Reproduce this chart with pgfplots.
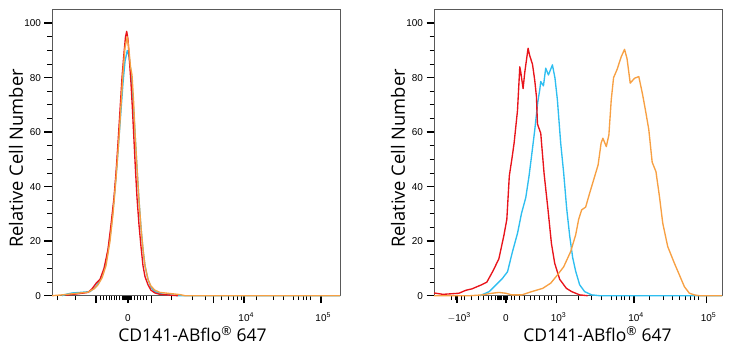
\documentclass[border=0pt]{standalone}
\usepackage{fontspec}
\setmainfont{Liberation Sans}
\newfontfamily\labfont{Open Sans}
\usepackage{pgfplots}
\pgfplotsset{compat=1.18}
\definecolor{cred}{HTML}{E8141B}
\definecolor{ccyan}{HTML}{2EBEF0}
\definecolor{corange}{HTML}{F7A043}
\pgfplotsset{flowax/.style={
  scale only axis, width=288bp, height=286.4bp,
  ymin=0, ymax=105.1,
  ytick={0,20,...,100}, minor y tick num=3,
  axis line style={draw=black!65, line width=0.9bp},
  tick align=outside, xtick pos=bottom, ytick pos=left,
  major tick length=7.5bp, minor tick length=4.5bp,
  every major tick/.append style={black, line width=1.4bp},
  every minor tick/.append style={black, line width=0.9bp},
  tick label style={font=\fontsize{10}{11}\selectfont},
  /pgf/number format/assume math mode=true,
  xticklabel style={text height=9bp, text depth=0bp, yshift=-5.5bp},
  xlabel style={font=\labfont\fontsize{17.6}{20}\selectfont},
  ylabel style={font=\labfont\fontsize{18.4}{20}\selectfont},
  ylabel={Relative Cell Number},
  xlabel={CD141-ABflo\textsuperscript{®} 647},
  ylabel style={at={(axis description cs:-0.125,0.479)}, anchor=center},
  clip=false,
  every axis plot/.append style={line width=1.35bp, line join=round, no markers},
}}
\begin{document}
\begin{tikzpicture}
\path[use as bounding box] (0,0) rectangle (731bp,350bp);
% ---------------- left panel ----------------
\begin{axis}[flowax, at={(52bp,54.3bp)}, anchor=south west,
  xmin=52, xmax=340,
  xtick={96,128,151.7,213.3,244,321},
  xticklabels={,0,,,10\rlap{\textsuperscript{4}},10\rlap{\textsuperscript{5}}},
  minor xtick={57.3,75,100,103.3,106.7,109.3,111.7,114,116.7,119.3,122.7,123.5,124.3,125.1,125.9,126.7,127.5,128.3,129.1,130,131.7,134.3,137.3,140,143.3,146.7,171.7,192.7,205,221.7,228.3,233.3,237.3,241,256.7,273.3,283.3,293.3,298.3,303.3,306.7,310},
  xlabel style={at={(axis description cs:0.488,-0.1606)}, anchor=base},
]
\addplot[ccyan] coordinates {
(62,0)(66,0.5)(72,1)(80,1.2)(90,1.5)(95,3)(99,5)(103,8)(107,14)(111,24)(114,35)(117,48)(119,58)(121,68)(123,78)(125,86)(127.3,90)(129,88)(131,82)(133,72)(135,60)(137,47)(139,35)(141,25)(143,17)(145,11)(148,6)(151,3)(155,1.5)(162,0.6)(172,0.2)(180,0)(340,0)};
\addplot[cred] coordinates {
(66,0.2)(80,0.8)(88,1.2)(92,2.5)(96,4.5)(100,6)(104,10)(108,17)(111,26)(114,36)(116,45)(118,56)(120,68)(122,80)(124,89)(125.5,95)(126.7,97)(128,94)(129.5,86)(131,78)(132.5,68)(134,57)(135.5,46)(137,36)(139,26)(141,18)(143,11)(145,7)(148,4)(151,2)(155,1)(160,0.5)(170,0.2)(178,0)};
\addplot[corange] coordinates {
(52,0)(62,0.3)(75,0.8)(88,1.3)(94,2.5)(98,4)(102,6.5)(106,11)(110,20)(113,30)(116,43)(119,58)(121,70)(123,82)(125,91)(127.3,95)(129,90)(130.5,84)(132,81)(133.5,72)(135,60)(137,47)(139,35)(141,25)(143,17)(145,11)(148,6)(151,3.5)(155,2)(160,1.2)(170,0.8)(180,0.4)(185,0)(340,0)};
\end{axis}
% ---------------- right panel ----------------
\begin{axis}[flowax, at={(434bp,54.3bp)}, anchor=south west,
  xmin=434, xmax=722.7,
  xtick={457,506,556.7,634.3,707},
  xticklabels={$-$10\rlap{\textsuperscript{3}},0,10\rlap{\textsuperscript{3}},10\rlap{\textsuperscript{4}},10\rlap{\textsuperscript{5}}},
  minor xtick={451.7,455,461.7,465,471.7,478.3,483.3,488.3,491.7,496,497.2,498.4,499.6,500.8,502,503.2,504.4,505.6,508,511.7,515,520,525,531,535,540,545,548.3,551.7,578.3,591.7,601.7,611.7,616.7,621.7,625,630,650,664,673,680,686,691,695,699},
  xlabel style={at={(axis description cs:0.568,-0.1606)}, anchor=base},
]
\addplot[ccyan] coordinates {
(480,0)(485,0.8)(489.3,1.5)(496,3.9)(502.7,6.4)(507.7,8.8)(512.7,16.2)(517.7,22.9)(521.7,30.2)(526,36)(529.3,44)(531.7,51)(535,60.8)(538,71)(540,75.5)(541,78.6)(543.7,77)(546,83.5)(548.7,81)(552.7,84.7)(555.3,79.8)(557.7,71.8)(561,56)(564,45)(567,32)(570,22)(573,14)(576,9)(580,4)(585,1.5)(592,0.3)(600,0)(722.7,0)};
\addplot[cred] coordinates {
(434,1)(443,0.5)(459,0.9)(466,2)(472,2.5)(481,3.9)(487,5)(493,9)(499,13.5)(504,22)(507,28)(509.5,44)(512,50)(514.3,56)(517.7,68)(520,84)(521,82)(523.3,76)(525,82)(528.3,90.8)(530,88)(532.7,85)(535,79)(536.7,73)(537.7,63)(541,59.6)(544.3,45)(548.3,31.5)(551.7,19.2)(555,11.9)(560,6)(566.7,2.7)(572,1.5)(580,0.3)(588,0)};
\addplot[corange] coordinates {
(434,0)(470,0)(483,0.3)(490,0.8)(499,1.2)(506,0.9)(512,0.3)(522,0.3)(532,1.5)(543,2.7)(551,4.6)(557.7,7.6)(564,10.6)(571,16.2)(576,22.3)(579,28)(582,31.5)(586,32.5)(590,37.6)(595,43.7)(598.5,48)(601.5,56)(603.3,57.8)(606.7,54.7)(609.3,59)(611.7,72)(614,80)(617.5,83)(621.7,87.7)(625,90.4)(627.5,87)(630.7,78)(635,79.8)(639.3,80.4)(643,74)(646,68)(649.3,61)(652.7,49)(656.5,45.5)(660,36.4)(663.3,26.6)(668.3,18)(675,11.9)(680,7.6)(685,3.3)(690,0.9)(695,0.3)(700,0)(722.7,0)};
\end{axis}
\end{tikzpicture}
\end{document}
